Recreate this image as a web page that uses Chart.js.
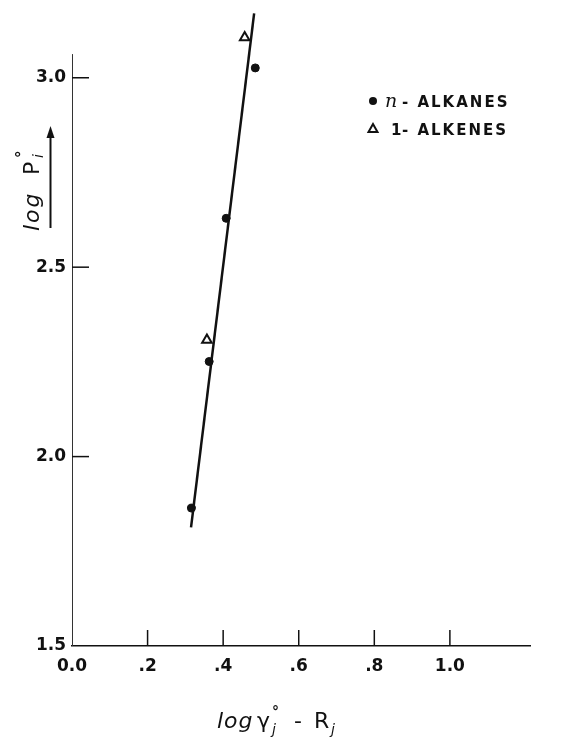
<!DOCTYPE html>
<html>
<head>
<meta charset="utf-8">
<script src="https://cdn.jsdelivr.net/npm/chart.js@4.4.1/dist/chart.umd.min.js"></script>
<style>
  body { margin: 0; background: #fff; }
  #wrap { width: 562px; height: 744px; }
</style>
</head>
<body>
<div id="wrap"><canvas id="chart" width="562" height="744"></canvas></div>
<script>
// values
const alkaneX = [0.316, 0.363, 0.408, 0.485];
const alkaneY = [1.864, 2.251, 2.629, 3.026];
const alkeneX = [0.357, 0.457];
const alkeneY = [2.308, 3.106];
const fitX = [0.315, 0.482];
const fitY = [1.813, 3.17];

const xTicks = [0, 0.2, 0.4, 0.6, 0.8, 1.0];
const xTickLabels = ['0.0', '.2', '.4', '.6', '.8', '1.0'];
const yTicks = [1.5, 2.0, 2.5, 3.0];
const yTickLabels = ['1.5', '2.0', '2.5', '3.0'];
const yAxisTop = 3.0625;   // drawn y axis stops here, the fitted line runs past it
const seriesNames = ['n', '- ALKANES', '1', '- ALKENES'];

const INK = '#111';
const tickFont = { family: 'DejaVu Sans', size: 17, weight: 'bold' };

const toPoints = (xs, ys) => xs.map((x, i) => ({ x: x, y: ys[i] }));

// y axis line, inward tick marks, titles, arrow and the in-plot key
const decorations = {
    id: 'decorations',
    afterDraw(chart) {
        const ctx = chart.ctx;
        const xs = chart.scales.x;
        const ys = chart.scales.y;
        const area = chart.chartArea;

        ctx.save();
        ctx.strokeStyle = '#333';
        ctx.lineWidth = 1;
        ctx.beginPath();
        ctx.moveTo(area.left + 0.5, ys.getPixelForValue(yAxisTop));
        ctx.lineTo(area.left + 0.5, area.bottom);
        ctx.stroke();

        ctx.strokeStyle = INK;
        ctx.lineWidth = 1.5;
        xTicks.slice(1).forEach(v => {
            const px = xs.getPixelForValue(v);
            ctx.beginPath();
            ctx.moveTo(px, area.bottom);
            ctx.lineTo(px, area.bottom - 16);
            ctx.stroke();
        });
        yTicks.slice(1).forEach(v => {
            const py = ys.getPixelForValue(v);
            ctx.beginPath();
            ctx.moveTo(area.left, py);
            ctx.lineTo(area.left + 17, py);
            ctx.stroke();
        });

        // y title, rotated
        ctx.fillStyle = INK;
        ctx.translate(39, 231);
        ctx.rotate(-Math.PI / 2);
        ctx.textBaseline = 'alphabetic';
        ctx.letterSpacing = '2px';
        ctx.font = 'italic 22px "DejaVu Sans"';
        ctx.fillText('log', 0, 0);
        ctx.letterSpacing = '0px';
        ctx.font = '22px "DejaVu Sans"';
        ctx.fillText('P', 56, 0);
        ctx.font = 'bold 15px "DejaVu Sans"';
        ctx.fillText('°', 73, -12);
        ctx.font = 'italic 14px "DejaVu Sans"';
        ctx.fillText('i', 73, 4);
        ctx.setTransform(1, 0, 0, 1, 0, 0);

        // arrow beside the y title
        ctx.lineWidth = 2;
        ctx.beginPath();
        ctx.moveTo(50.5, 228);
        ctx.lineTo(50.5, 134);
        ctx.stroke();
        ctx.beginPath();
        ctx.moveTo(50.5, 126);
        ctx.lineTo(46.5, 138);
        ctx.lineTo(54.5, 138);
        ctx.closePath();
        ctx.fill();

        // x title
        const by = 728;
        ctx.textBaseline = 'alphabetic';
        ctx.letterSpacing = '1px';
        ctx.font = 'italic 22px "DejaVu Sans"';
        ctx.fillText('log', 217, by);
        ctx.letterSpacing = '0px';
        ctx.font = '22px "DejaVu Sans"';
        ctx.fillText('γ', 257, by);
        ctx.font = 'bold 14px "DejaVu Sans"';
        ctx.fillText('°', 272, by - 12);
        ctx.font = 'italic 14px "DejaVu Sans"';
        ctx.fillText('j', 272, by + 6);
        ctx.font = '22px "DejaVu Sans"';
        ctx.fillText('-', 294, by);
        ctx.fillText('R', 314, by);
        ctx.font = 'italic 14px "DejaVu Sans"';
        ctx.fillText('j', 331, by + 6);

        // key
        ctx.beginPath();
        ctx.arc(373, 101, 4, 0, Math.PI * 2);
        ctx.fill();
        ctx.font = 'italic 19px "DejaVu Serif"';
        ctx.fillText(seriesNames[0], 385, 107);
        ctx.font = 'bold 15px "DejaVu Sans"';
        ctx.letterSpacing = '2px';
        ctx.fillText(seriesNames[1], 402, 107);
        ctx.letterSpacing = '0px';

        ctx.lineWidth = 2;
        ctx.beginPath();
        ctx.moveTo(373, 124);
        ctx.lineTo(368.5, 132);
        ctx.lineTo(377.5, 132);
        ctx.closePath();
        ctx.stroke();
        ctx.font = 'bold 15px "DejaVu Sans"';
        ctx.fillText(seriesNames[2], 391, 135);
        ctx.letterSpacing = '2px';
        ctx.fillText(seriesNames[3], 402, 135);
        ctx.restore();
    }
};

new Chart(document.getElementById('chart'), {
    type: 'scatter',
    data: {
        datasets: [
            {
                label: 'fit',
                type: 'line',
                data: toPoints(fitX, fitY),
                borderColor: INK,
                borderWidth: 2.5,
                pointRadius: 0,
                fill: false,
                clip: false
            },
            {
                label: 'n-alkanes',
                data: toPoints(alkaneX, alkaneY),
                pointStyle: 'circle',
                pointRadius: 4,
                backgroundColor: INK,
                borderColor: INK,
                borderWidth: 1,
                clip: false
            },
            {
                label: '1-alkenes',
                data: toPoints(alkeneX, alkeneY),
                pointStyle: 'triangle',
                pointRadius: 5.5,
                backgroundColor: '#fff',
                borderColor: INK,
                borderWidth: 2,
                clip: false
            }
        ]
    },
    options: {
        responsive: false,
        animation: false,
        layout: { autoPadding: false, padding: { top: 2, right: 32, left: 0, bottom: 0 } },
        plugins: {
            legend: { display: false },
            tooltip: { enabled: false }
        },
        scales: {
            x: {
                type: 'linear',
                min: 0,
                max: 1.212,
                afterBuildTicks: s => { s.ticks = xTicks.map(v => ({ value: v })); },
                afterFit: s => { s.height = 98; },
                ticks: {
                    color: INK,
                    font: tickFont,
                    padding: 10,
                    maxRotation: 0,
                    callback: v => xTickLabels[xTicks.indexOf(v)]
                },
                grid: { display: true, drawOnChartArea: false, drawTicks: false },
                border: { display: true, color: INK, width: 1.6 }
            },
            y: {
                type: 'linear',
                min: 1.5,
                max: 3.2,
                afterBuildTicks: s => { s.ticks = yTicks.map(v => ({ value: v })); },
                afterFit: s => { s.width = 72; s.paddingTop = 0; s.paddingBottom = 0; },
                ticks: {
                    color: INK,
                    font: tickFont,
                    padding: 6,
                    callback: v => yTickLabels[yTicks.indexOf(v)]
                },
                grid: { display: false, drawTicks: false },
                border: { display: false }
            }
        }
    },
    plugins: [decorations]
});
</script>
</body>
</html>
